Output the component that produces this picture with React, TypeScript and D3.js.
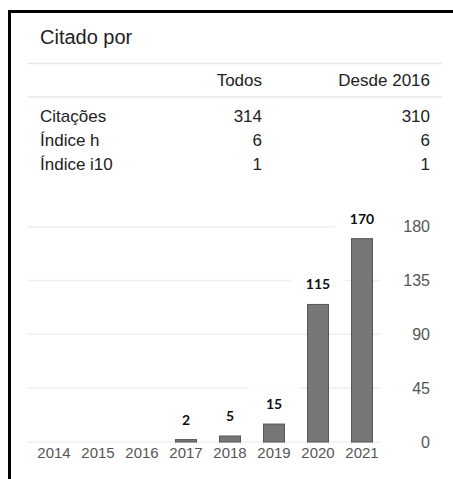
import React from "react";
import * as d3 from "d3";

const years = ["2014", "2015", "2016", "2017", "2018", "2019", "2020", "2021"];
const citations = [0, 0, 0, 2, 5, 15, 115, 170];
const yTicks = [0, 45, 90, 135, 180];
const tableHeaders = ["Todos", "Desde 2016"];
const rowLabels = ["Citações", "Índice h", "Índice i10"];
const allValues = ["314", "6", "1"];
const since2016Values = ["310", "6", "1"];

const W = 453;
const H = 479;
const SANS = "'Liberation Sans', Arial, sans-serif";

export default function App() {
  const x = d3.scaleBand<string>().domain(years).range([32, 384]).padding(0);
  const y = d3.scaleLinear().domain([0, 180]).range([442, 226.7]);
  const barW = 21;
  const step = x.step();
  const cx = (yr: string) => (x(yr) as number) + step / 2;

  const rowY = [122, 146, 170];

  return (
    <svg
      width={W}
      height={H}
      style={{ position: "absolute", left: 0, top: 0, background: "#fff" }}
    >
      <rect x={0} y={0} width={W} height={H} fill="#fff" />
      {/* frame */}
      <rect x={8} y={10} width={W - 8} height={3} fill="#000" />
      <rect x={8} y={10} width={3} height={H - 10} fill="#000" />

      {/* title */}
      <text x={40} y={44} fontFamily={SANS} fontSize={20} fill="#222">
        Citado por
      </text>
      <line x1={28} x2={442} y1={63.5} y2={63.5} stroke="#e6e6e6" strokeWidth={1.5} />
      <text x={262} y={86} textAnchor="end" fontFamily={SANS} fontSize={17} fill="#222">
        {tableHeaders[0]}
      </text>
      <text x={430} y={86} textAnchor="end" fontFamily={SANS} fontSize={17} fill="#222">
        {tableHeaders[1]}
      </text>
      <line x1={28} x2={442} y1={97} y2={97} stroke="#e6e6e6" strokeWidth={1.5} />
      {rowLabels.map((r, i) => (
        <g key={r}>
          <text x={40} y={rowY[i]} fontFamily={SANS} fontSize={17} fill="#222">
            {r}
          </text>
          <text x={262} y={rowY[i]} textAnchor="end" fontFamily={SANS} fontSize={17} fill="#222">
            {allValues[i]}
          </text>
          <text x={430} y={rowY[i]} textAnchor="end" fontFamily={SANS} fontSize={17} fill="#222">
            {since2016Values[i]}
          </text>
        </g>
      ))}

      {/* gridlines */}
      {yTicks.map((t) => (
        <line key={t} x1={28} x2={380} y1={y(t)} y2={y(t)} stroke="#efefef" strokeWidth={1.5} />
      ))}

      {/* label background boxes */}
      {years.map((yr, i) =>
        citations[i] > 0 ? (
          <rect
            key={"bg" + yr}
            x={cx(yr) - 27}
            y={y(citations[i]) - 19.5 - 17}
            width={54}
            height={34}
            fill="#fff"
          />
        ) : null
      )}

      {/* bars */}
      {years.map((yr, i) =>
        citations[i] > 0 ? (
          <rect
            key={"b" + yr}
            x={cx(yr) - barW / 2}
            y={y(citations[i])}
            width={barW}
            height={y(0) - y(citations[i])}
            fill="#777"
            stroke="#555"
            strokeWidth={1}
          />
        ) : null
      )}

      {/* value labels */}
      {years.map((yr, i) =>
        citations[i] > 0 ? (
          <text
            key={"l" + yr}
            x={cx(yr)}
            y={y(citations[i]) - 15}
            textAnchor="middle"
            fontFamily="Lato, 'Open Sans', sans-serif"
            fontWeight="bold"
            fontSize={14}
            fill="#111"
          >
            {citations[i]}
          </text>
        ) : null
      )}

      {/* x labels */}
      {years.map((yr) => (
        <text
          key={"x" + yr}
          x={cx(yr)}
          y={458}
          textAnchor="middle"
          fontFamily={SANS}
          fontSize={15}
          fill="#555"
        >
          {yr}
        </text>
      ))}

      {/* y labels */}
      {yTicks.map((t) => (
        <text
          key={"y" + t}
          x={430}
          y={y(t)}
          dy="0.36em"
          textAnchor="end"
          fontFamily={SANS}
          fontSize={16}
          fill="#555"
        >
          {t}
        </text>
      ))}
    </svg>
  );
}
